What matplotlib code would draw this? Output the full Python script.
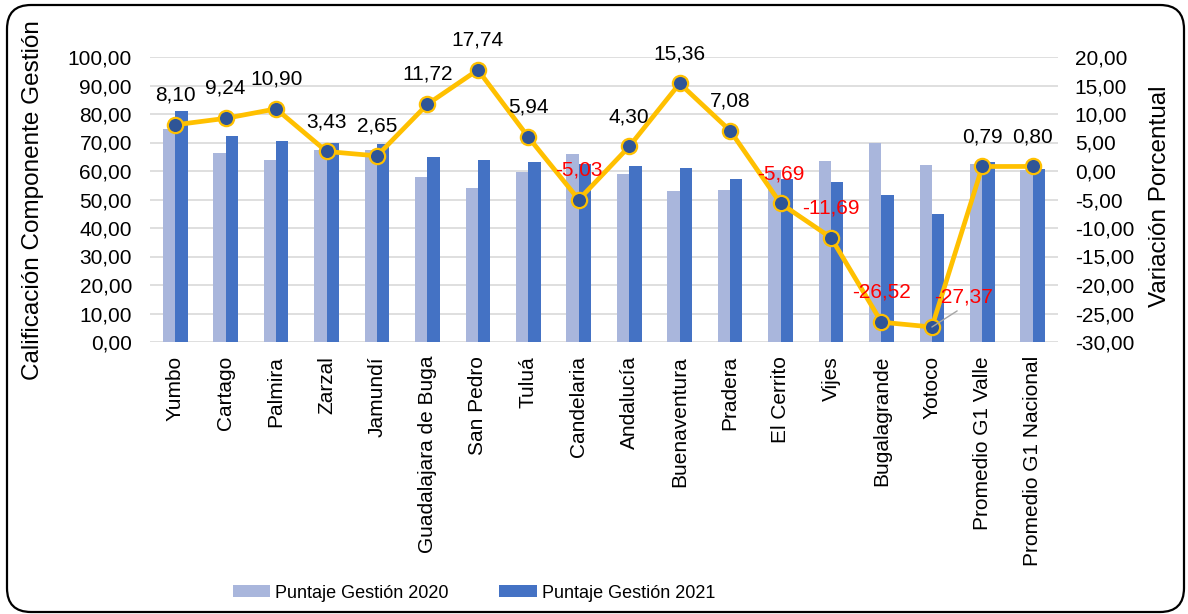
import matplotlib
matplotlib.use("Agg")
import matplotlib.pyplot as plt
import numpy as np
from matplotlib.patches import FancyBboxPatch

plt.rcParams['font.family'] = ['Liberation Sans', 'DejaVu Sans']

categories = ["Yumbo", "Cartago", "Palmira", "Zarzal", "Jamundí", "Guadalajara de Buga",
              "San Pedro", "Tuluá", "Candelaria", "Andalucía", "Buenaventura", "Pradera",
              "El Cerrito", "Vijes", "Bugalagrande", "Yotoco", "Promedio G1 Valle",
              "Promedio G1 Nacional"]
score_2020 = [74.8, 66.4, 63.8, 67.5, 67.5, 58.0, 54.0, 59.6, 65.8, 59.1, 52.9, 53.3,
              60.5, 63.5, 70.0, 62.0, 62.5, 60.3]
score_2021 = [80.9, 72.3, 70.7, 70.0, 69.3, 64.8, 63.7, 63.0, 62.5, 61.7, 61.2, 57.2,
              57.2, 56.2, 51.5, 45.0, 63.0, 60.8]
variation = [8.10, 9.24, 10.90, 3.43, 2.65, 11.72, 17.74, 5.94, -5.03, 4.30, 15.36, 7.08,
             -5.69, -11.69, -26.52, -27.37, 0.79, 0.80]
left_ticks = [0, 10, 20, 30, 40, 50, 60, 70, 80, 90, 100]
right_ticks = [-30, -25, -20, -15, -10, -5, 0, 5, 10, 15, 20]
legend_labels = ["Puntaje Gestión 2020", "Puntaje Gestión 2021"]
left_title = "Calificación Componente Gestión"
right_title = "Variación Porcentual"

def fmt(v):
    return f"{v:.2f}".replace('.', ',')

W, H = 1188, 614
fig = plt.figure(figsize=(W / 100, H / 100), dpi=100)
ax = fig.add_axes([150 / W, 1 - 342 / H, (1058 - 150) / W, (342 - 57) / H])
ax2 = ax.twinx()

x = np.arange(len(categories))
bw = 0.245
c_light = '#A9B6DC'
c_dark = '#4472C4'
ax.bar(x - bw / 2, score_2020, bw, color=c_light, label=legend_labels[0], zorder=2)
ax.bar(x + bw / 2, score_2021, bw, color=c_dark, label=legend_labels[1], zorder=2)

ax.set_xlim(-0.5, len(categories) - 0.5)
ax.set_ylim(0, 100)
ax.set_yticks(left_ticks)
ax.set_yticklabels([fmt(v) for v in left_ticks])
ax.yaxis.grid(True, color='#D9D9D9', linewidth=1.2, zorder=0)
ax.set_axisbelow(True)
ax.set_xticks(x)
ax.set_xticklabels(categories, rotation=90, fontsize=15)
for s in ax.spines.values():
    s.set_visible(False)
for s in ax2.spines.values():
    s.set_visible(False)
ax.tick_params(axis='both', length=0, colors='black')
ax.tick_params(axis='y', pad=13, labelsize=15)
ax.tick_params(axis='x', pad=10, labelsize=15)

ax2.plot(x, variation, color='#FFC000', linewidth=3.4, marker='o', markersize=11,
         markerfacecolor='#2F5597', markeredgecolor='#FFC000', markeredgewidth=1.6,
         zorder=5)
ax2.set_ylim(-30, 20)
ax2.set_yticks(right_ticks)
ax2.set_yticklabels([fmt(v) for v in right_ticks])
ax2.tick_params(axis='y', length=0, labelsize=15, pad=12, colors='black')

for i, v in enumerate(variation):
    col = 'black' if v >= 0 else '#FF0000'
    if i == 15:
        ax2.annotate(fmt(v), xy=(i, v), xytext=(23, 21.5), textcoords='offset points',
                     ha='center', va='center', fontsize=15, color=col, zorder=6,
                     arrowprops=dict(arrowstyle='-', color='#A6A6A6', lw=1,
                                     relpos=(0.5, 0.0), shrinkA=2, shrinkB=0))
    else:
        ax2.annotate(fmt(v), xy=(i, v), xytext=(0, 21.5), textcoords='offset points',
                     ha='center', va='center', fontsize=15, color=col, zorder=6)

fig.text(33 / W, 1 - 200 / H, left_title, rotation=90, ha='center', va='center', fontsize=17.5)
fig.text(1160 / W, 1 - 196 / H, right_title, rotation=90, ha='center', va='center', fontsize=17.5)

fig.legend(loc='center left', bbox_to_anchor=(233 / W, 1 - 593 / H), ncol=2, frameon=False,
           fontsize=13, handlelength=2.05, handleheight=0.65, handletextpad=0.3,
           columnspacing=2.8, borderpad=0, borderaxespad=0)

border = FancyBboxPatch((7, 2), 1177, 607, boxstyle="round,pad=0,rounding_size=24",
                        transform=None, facecolor='none', edgecolor='black', linewidth=1.6)
fig.patches.append(border)

fig.savefig('out.png', dpi=100)
